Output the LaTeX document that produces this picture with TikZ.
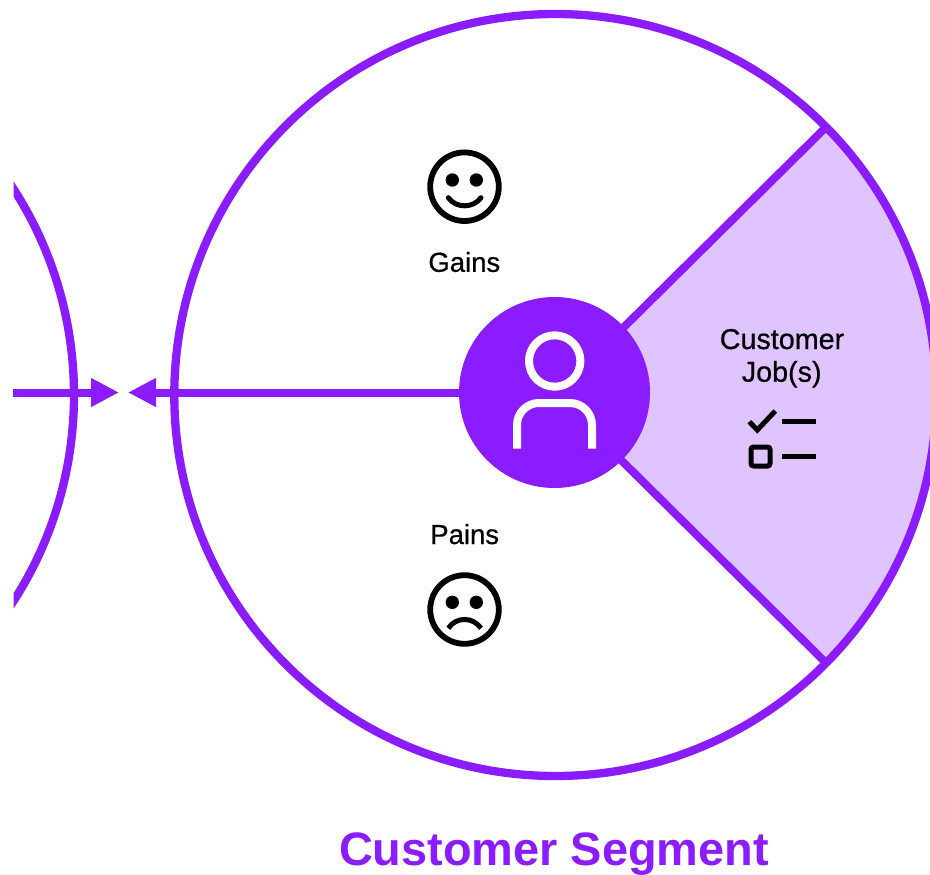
\documentclass[tikz,border=0pt]{standalone}
\usepackage{fontspec}
\setmainfont{Liberation Sans}
\newfontfamily\labelfont[FakeBold=0.6]{Liberation Sans}
\usetikzlibrary{arrows.meta,calc}
\definecolor{vio}{HTML}{8B1CFF}
\definecolor{lilac}{HTML}{E0C4FF}
\tikzset{
  ring/.style={draw=vio,line width=8.3pt},
  spoke/.style={draw=vio,line width=8pt},
  flow/.style={draw=vio,line width=8pt,-{Triangle[length=28pt,width=27pt,fill=vio]}},
  hub/.style={circle,fill=vio,minimum size=191pt,inner sep=0pt},
  figline/.style={draw=white,line width=8pt},
  iconline/.style={draw=black,line width=5pt},
  facering/.style={draw=black,line width=5.8pt},
  eye/.style={fill=black},
  label/.style={font=\fontsize{27.5}{33}\selectfont\labelfont,text=black,anchor=base,inner sep=0pt},
  title/.style={font=\fontsize{46.9}{50}\selectfont\bfseries,text=vio,anchor=base,inner sep=0pt}
}
\begin{document}
\begin{tikzpicture}[x=1pt,y=-1pt]
\useasboundingbox (0,0) rectangle (930,875);
\clip (0,0) rectangle (930,875);
\coordinate (c) at (554.5,392.5);
\coordinate (bigc) at (555.3,395);
% job wedge
\fill[lilac] (bigc) -- ++(44.7:381pt) arc[start angle=44.7,end angle=-44.7,radius=381pt] -- cycle;
% customer circle
\draw[ring] (bigc) circle[radius=381pt];
\coordinate (w1) at ($(bigc)+(44.7:381pt)$);
\coordinate (w2) at ($(bigc)+(-44.7:381pt)$);
% left value circle, cut off at x=13
\begin{scope}
  \clip (13.5,0) rectangle (930,875);
  \draw[ring] (-307,395) circle[radius=381pt];
\end{scope}
% spokes, then hub on top
\draw[spoke] (bigc) -- (w1);
\draw[spoke] (bigc) -- (w2);
\node[hub] (hubnode) at (c) {};
\coordinate (lstart) at (13,392.5);
\coordinate (ltip) at (119,392.5);
\coordinate (rtip) at (128,392.5);
\draw[flow] (lstart) -- (ltip);
\draw[flow] (hubnode.west) -- (rtip);
% person
\draw[figline] (554.7,361) circle[radius=25.7pt];
\draw[figline] (517,448.7) -- (517,425) arc[start angle=180,end angle=90,radius=22pt] -- (570,403) arc[start angle=90,end angle=0,radius=22pt] -- (592,448.7);
% smile
\draw[facering] (464.5,186.7) circle[radius=34.3pt];
\fill[eye] (452.3,180) circle[radius=6.7pt];
\fill[eye] (476.3,180) circle[radius=6.7pt];
\draw[iconline,line cap=round] (448.3,197.7) .. controls (456,208.5) and (473,208.5) .. (481,197.7);
% frown
\draw[facering] (464.5,609.5) circle[radius=34.3pt];
\fill[eye] (452.3,602.3) circle[radius=6.7pt];
\fill[eye] (476.3,602.3) circle[radius=6.7pt];
\draw[iconline] (448.3,628.3) .. controls (456,616.5) and (473,616.5) .. (481,628.3);
% checklist
\draw[iconline] (749.3,421.7) -- (757.3,430) -- (775.3,411);
\draw[iconline] (782,421.3) -- (816,421.3);
\draw[iconline,rounded corners=2.5pt] (751,447) rectangle (770,466);
\draw[iconline] (782,456) -- (816,456);
% labels
\node[label] (gains) at (464.3,271.8) {Gains};
\node[label] (pains) at (464.7,544) {Pains};
\node[label,font=\fontsize{28.7}{33}\selectfont\labelfont] (job1) at (782,349) {Customer};
\node[label,font=\fontsize{28.7}{33}\selectfont\labelfont] (job2) at (781.7,381.7) {Job(s)};
\node[title] (seg) at (554,865) {Customer Segment};
\end{tikzpicture}
\end{document}
